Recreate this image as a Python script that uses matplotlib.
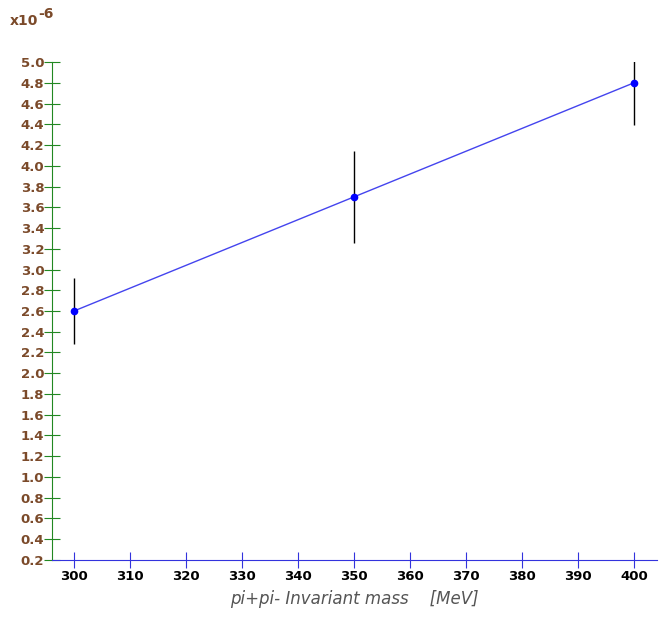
import matplotlib.pyplot as plt

# data
mass = [300, 350, 400]
value = [2.6, 3.7, 4.8]
err = [0.32, 0.44, 0.41]

yticks = [round(0.2 + 0.2 * i, 1) for i in range(25)]
xticks = list(range(300, 401, 10))

brown = "#7b4a2a"

fig = plt.figure(figsize=(6.68, 6.24), dpi=100)
ax = fig.add_axes([0.0778, 0.1026, 0.9057, 0.798])

ax.errorbar(mass, value, yerr=err, fmt="none", ecolor="black", elinewidth=1.0, capsize=0)
ax.plot(mass, value, color="#4444ee", lw=1.0, marker="o", ms=4.5,
        markerfacecolor="blue", markeredgecolor="blue")

ax.set_xlim(296.07, 404.1)
ax.set_ylim(0.2, 5.0)
ax.set_xticks(xticks)
ax.set_yticks(yticks)
ax.set_yticklabels([f"{t:.1f}" for t in yticks])

for s in ["top", "right"]:
    ax.spines[s].set_visible(False)
ax.spines["left"].set_color("#228822")
ax.spines["bottom"].set_color("#3333dd")

ax.tick_params(axis="y", direction="inout", length=11, color="#228822",
               labelcolor=brown, labelsize=9.5, pad=0)
ax.tick_params(axis="x", direction="inout", length=11, color="#3333dd",
               labelcolor="black", labelsize=9.5, pad=2)
for lab in ax.get_xticklabels() + ax.get_yticklabels():
    lab.set_fontweight("bold")

ax.set_xlabel("pi+pi- Invariant mass    [MeV]", fontsize=12, style="italic",
              color="#555555", labelpad=5)
fig.text(0.015, 0.967, "x10", color=brown, fontsize=10, fontweight="bold", va="center")
fig.text(0.058, 0.978, "-6", color=brown, fontsize=10, fontweight="bold", va="center")

fig.savefig("out.png", dpi=100)
